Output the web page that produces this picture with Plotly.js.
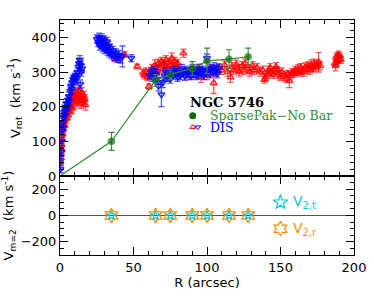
<!DOCTYPE html>
<html><head><meta charset="utf-8">
<script src="https://cdn.plot.ly/plotly-3.0.1.min.js"></script>
<style>html,body{margin:0;padding:0;background:#fff}#c{width:374px;height:298px}</style>
</head><body><div id="c"></div>
<script>
// SparsePak (No Bar) tilted-ring model
const spR   = [0, 35, 65, 75, 90, 100, 115, 128];
const spV   = [0, 100, 276, 293, 310, 332, 337, 344];
const spErr = [0, 26, 17, 15, 20, 37, 27, 25];

// DIS long-slit, receding side (red, up triangles)
const redR = [0.3,0.6,0.9,1.2,1.5,1.8,2.1,2.4,2.8,3.1,3.5,3.9,4.3,4.8,5.3,5.8,6.3,6.8,7.3,7.8,8.3,8.8,9.3,9.8,10.3,10.8,11.3,11.8,12.3,12.8,13.3,13.8,14.3,14.8,15.3,15.8,16.3,16.8,17.3,
  37.5,44,52.5,56.5,57.5,58.5,59.5,60.5,61.5,62.5,63.5,64.5,65.5,66,67,68,69,70,71,72,73,74,75,76,77,78,79,80,84,
  86,88,90,92,94,96,98,100,102,104.6,106,108,110,112,114,116,117,118,120,121,122,124,125,126,128,129,131,132,134,136,138,
  139,140,141,142,143,144,145,146,147,148,149,150,151,153,154,155,156,157,158,159,160,161,162,163,164,165,166,167,168,169,170,171,172,173,174,175,176,177,
  187,187.5,188,188.5,189,189.5,190,190.5,191];
const redV = [40,62,90,75,105,120,135,150,160,145,170,180,165,190,175,195,185,205,200,215,195,225,210,235,220,240,225,215,235,245,220,230,210,240,225,215,230,220,205,
  338,350,316,298,290,300,285,258,295,310,300,320,295,305,325,310,330,318,322,335,310,328,320,340,315,330,320,325,354,
  300,290,305,295,310,285,300,290,308,268,300,312,305,320,300,285,315,305,322,310,300,318,305,325,310,300,318,305,312,300,305,
  278,285,295,305,312,300,292,305,315,305,295,285,300,290,280,295,275,290,300,295,305,300,310,298,312,305,300,315,308,318,305,320,312,325,315,322,328,318,
  325,318,345,330,340,350,338,345,335];
const redErr = [10,10,12,10,12,10,12,10,12,10,12,10,12,12,10,12,12,15,15,15,15,15,15,15,15,15,15,15,15,15,15,15,15,15,15,15,15,15,15,
  8,8,7,10,10,12,10,8,12,12,10,15,12,12,12,12,12,12,12,12,12,12,12,15,12,12,12,12,12,
  12,12,12,12,12,15,12,12,12,30,12,12,12,12,12,15,12,12,12,12,12,12,12,12,12,12,12,12,12,12,12,
  10,10,10,12,12,10,10,10,12,10,10,10,12,10,10,10,20,10,10,10,12,10,12,10,12,10,12,12,12,12,12,15,12,12,12,12,28,12,
  12,15,10,10,10,10,10,10,10];

// DIS long-slit, approaching side (blue, down triangles)
const blueR = [0.3,0.6,0.9,1.2,1.5,1.8,2.1,2.4,2.8,3.2,3.6,4.0,4.5,5.0,5.5,6.0,6.5,7.0,7.5,8.0,8.5,9.0,9.5,10.0,10.5,11.0,11.5,12.0,12.5,13.0,13.5,14.0,14.5,13.8,15.0,
  25,26,26.5,27,27.5,28,28.5,29,29.5,30,30.5,31,31.5,32,32.5,33,33.5,34,35,36,37,38,39,40,41,42.5,48.5,
  61,62,63,64,65,66,67,69,70,71,72,73,74,75,76,77,78,79,80,81,82,83,84,85,86,87,88,89,90,91,92,93,94,95,96,97,98,99,100,101,102,103,104,105,106,107,108];
const blueV = [20,45,70,100,130,155,140,170,185,175,200,190,210,200,220,230,215,245,260,250,270,280,275,285,278,290,282,300,315,325,335,320,300,265,310,
  395,385,400,375,390,380,398,370,385,392,365,380,372,388,360,375,355,368,350,362,345,355,340,350,338,345,340,
  290,300,285,305,295,280,260,235,270,290,300,285,295,280,300,290,305,295,285,300,290,310,298,288,305,295,300,290,310,295,305,290,300,310,295,305,290,300,340,305,295,310,300,315,305,295,310];
const blueErr = [10,10,12,12,12,12,12,12,12,12,12,12,12,12,12,12,12,12,12,12,12,12,12,12,12,12,12,12,12,12,12,12,12,12,12,
  12,12,12,12,12,10,12,12,12,12,12,12,12,12,12,12,12,12,12,12,12,12,12,12,12,30,10,
  12,12,12,12,12,15,15,35,15,12,12,12,12,12,12,12,12,12,12,12,12,12,12,12,12,12,12,12,12,12,12,12,12,12,12,12,12,12,12,12,12,12,12,12,12,12,12];

// m=2 harmonic amplitudes
const m2R  = [35, 65, 75, 90, 100, 115, 128];
const v2t  = [0, 0, 0, 0, 0, 0, 0];
const v2r  = [0, 0, 0, 0, 0, 0, 0];

const GREEN='#0a6b0a', GLINE='#2f8f2f', RED='rgba(255,0,0,0.8)', BLUE='rgba(0,0,255,0.8)', CYAN='#00c8d8', ORANGE='#ff8c00';

const traces = [
  {x: redR, y: redV, type:'scatter', mode:'markers', xaxis:'x', yaxis:'y',
   marker:{symbol:'triangle-up-open', size:6, color:RED, line:{width:1.6, color:RED}},
   error_y:{type:'data', array:redErr, color:'rgba(255,0,0,0.65)', thickness:1.3, width:3}},
  {x: blueR, y: blueV, type:'scatter', mode:'markers', xaxis:'x', yaxis:'y',
   marker:{symbol:'triangle-down-open', size:6, color:BLUE, line:{width:1.6, color:BLUE}},
   error_y:{type:'data', array:blueErr, color:'rgba(0,0,255,0.65)', thickness:1.3, width:3}},
  {x: spR, y: spV, type:'scatter', mode:'lines+markers', xaxis:'x', yaxis:'y',
   line:{color:GLINE, width:1.2},
   marker:{symbol:'circle', size:spR.map((r,i)=> i===0?0:7), color:GREEN},
   error_y:{type:'data', array:spErr, color:GLINE, thickness:1.1, width:3}},
  // legend keys (top panel)
  {x:[90.3], y:[174], type:'scatter', mode:'markers', xaxis:'x', yaxis:'y', marker:{symbol:'circle', size:7, color:GREEN}},
  {x:[90.3], y:[141], type:'scatter', mode:'markers', xaxis:'x', yaxis:'y', marker:{symbol:'triangle-up-open', size:5, color:'red', line:{width:1,color:'red'}}},
  {x:[93.8], y:[141], type:'scatter', mode:'markers', xaxis:'x', yaxis:'y', marker:{symbol:'triangle-down-open', size:5, color:'blue', line:{width:1,color:'blue'}}},
  // bottom panel
  {x: m2R, y: v2r, type:'scatter', mode:'markers', xaxis:'x2', yaxis:'y2',
   marker:{symbol:'hexagram-open', size:11, color:ORANGE, line:{width:1.3, color:ORANGE}}},
  {x: m2R, y: v2t, type:'scatter', mode:'markers', xaxis:'x2', yaxis:'y2',
   marker:{symbol:'star-open', size:7, color:CYAN, line:{width:1.2, color:CYAN}}},
  // legend keys (bottom panel)
  {x:[150], y:[100], type:'scatter', mode:'markers', xaxis:'x2', yaxis:'y2', marker:{symbol:'star-open', size:11, color:CYAN, line:{width:1.2,color:CYAN}}},
  {x:[150], y:[-100], type:'scatter', mode:'markers', xaxis:'x2', yaxis:'y2', marker:{symbol:'hexagram-open', size:11, color:ORANGE, line:{width:1.2,color:ORANGE}}}
];

const F = {family:'DejaVu Sans', size:13, color:'black'};
const axBase = {showline:true, linecolor:'black', linewidth:1, mirror:'ticks', ticks:'inside',
  ticklen:8, tickcolor:'black', tickwidth:1, showgrid:false, zeroline:false, tickfont:F};

const layout = {
  width:374, height:298, margin:{l:60, r:20, t:20, b:43},
  paper_bgcolor:'white', plot_bgcolor:'white', showlegend:false, font:F,
  xaxis: Object.assign({}, axBase, {anchor:'y', domain:[0,1], range:[0,200], dtick:50, showticklabels:false,
    minor:{dtick:10, ticklen:4, ticks:'inside', tickcolor:'black'}}),
  xaxis2: Object.assign({}, axBase, {anchor:'y2', domain:[0,1], range:[0,200], dtick:50, matches:'x',
    minor:{dtick:10, ticklen:4, ticks:'inside', tickcolor:'black'},
    title:{text:'R (arcsec)', font:F, standoff:4}}),
  yaxis: Object.assign({}, axBase, {anchor:'x', domain:[0.336,1], range:[0,450], dtick:100,
    minor:{dtick:20, ticklen:4, ticks:'inside', tickcolor:'black'},
    title:{text:'V<sub>rot</sub>  (km s<sup>-1</sup>)', font:F, standoff:8}}),
  yaxis2: Object.assign({}, axBase, {anchor:'x2', domain:[0,0.336], range:[-300,300], dtick:200,
    zeroline:true, zerolinecolor:'#555', zerolinewidth:1,
    minor:{dtick:50, ticklen:4, ticks:'inside', tickcolor:'black'},
    title:{text:'V<sub>m=2</sub>  (km s<sup>-1</sup>)', font:F, standoff:8}}),
  annotations:[
    {xref:'x', yref:'y', x:90.3, y:213, xanchor:'left', yanchor:'middle', showarrow:false, xshift:-5,
     text:'<b>NGC 5746</b>', font:{family:'DejaVu Serif', size:13, color:'black'}},
    {xref:'x', yref:'y', x:100.5, y:174, xanchor:'left', yanchor:'middle', showarrow:false,
     text:'SparsePak\u2212No Bar', font:{family:'DejaVu Serif', size:12.5, color:GLINE}},
    {xref:'x', yref:'y', x:100.5, y:141, xanchor:'left', yanchor:'middle', showarrow:false,
     text:'DIS', font:{family:'DejaVu Serif', size:12.5, color:'blue'}},
    {xref:'x2', yref:'y2', x:157, y:100, xanchor:'left', yanchor:'middle', showarrow:false,
     text:'V<sub>2,t</sub>', font:{family:'DejaVu Sans', size:14, color:CYAN}},
    {xref:'x2', yref:'y2', x:157, y:-100, xanchor:'left', yanchor:'middle', showarrow:false,
     text:'V<sub>2,r</sub>', font:{family:'DejaVu Sans', size:14, color:ORANGE}}
  ]
};

Plotly.newPlot('c', traces, layout, {staticPlot:true, displayModeBar:false});
</script></body></html>
